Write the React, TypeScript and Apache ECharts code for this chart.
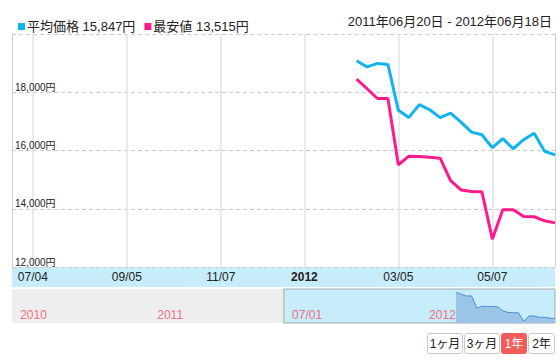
import React, { useEffect, useRef } from 'react';
import * as echarts from 'echarts';

// ---- data ----
const weekDates = [
  '2012-02-06', '2012-02-13', '2012-02-20', '2012-02-27', '2012-03-05',
  '2012-03-12', '2012-03-19', '2012-03-26', '2012-04-02', '2012-04-09',
  '2012-04-16', '2012-04-23', '2012-04-30', '2012-05-07', '2012-05-14',
  '2012-05-21', '2012-05-28', '2012-06-04', '2012-06-11', '2012-06-18',
];
const avgPrice = [
  19080, 18870, 18990, 18955, 17380, 17130, 17575, 17400, 17130, 17285,
  16975, 16630, 16540, 16095, 16405, 16060, 16370, 16595, 15975, 15847,
];
const minPrice = [
  18450, 18120, 17785, 17785, 15505, 15805, 15795, 15770, 15735, 14965,
  14645, 14595, 14585, 12955, 13965, 13965, 13735, 13725, 13585, 13515,
];
const seriesNames = ['平均価格', '最安値'];
const seriesColors = ['#10b4f0', '#ff1a8c'];
const mainRange = ['2011-06-20', '2012-06-18'];
const navRange = ['2010-06-20', '2012-06-18'];
const mainTickDates = ['2011-07-04', '2011-09-05', '2011-11-07', '2012-01-02', '2012-03-05', '2012-05-07'];
const mainTickLabels = ['07/04', '09/05', '11/07', '2012', '03/05', '05/07'];
const navTickDates = ['2010-07-01', '2011-01-01', '2011-07-01', '2012-01-01'];
const navTickLabels = ['2010', '2011', '07/01', '2012'];
const yMin = 12000;
const yMax = 20000;
const yInterval = 2000;
const rangeButtons = ['1ヶ月', '3ヶ月', '1年', '2年'];
const selectedButton = 2;

const FONT = '"Liberation Sans", Arial, "Noto Sans CJK JP", sans-serif';

const ts = (d: string) => {
  const [y, m, dd] = d.split('-').map(Number);
  return Date.UTC(y, m - 1, dd);
};
const jpDate = (d: string) => {
  const [y, m, dd] = d.split('-');
  return `${y}年${m}月${dd}日`;
};
const fmtNum = (v: number) => v.toLocaleString('en-US');

export default function App() {
  const ref = useRef<HTMLDivElement>(null);

  useEffect(() => {
    document.body.style.margin = '0';
    if (!ref.current) return;
    const chart = echarts.init(ref.current, undefined, { renderer: 'svg' });

    const mainTickTs = mainTickDates.map(ts);
    const navTickTs = navTickDates.map(ts);
    const lastVals = [avgPrice[avgPrice.length - 1], minPrice[minPrice.length - 1]];

    const btnWidths = [35, 35, 25, 26];
    const btnGap = 2;
    let bx = 0;
    const buttons: any[] = [];
    rangeButtons.forEach((label, i) => {
      const w = btnWidths[i];
      const sel = i === selectedButton;
      buttons.push({
        type: 'rect',
        x: bx, y: 0,
        shape: { width: w, height: 20, r: 2 },
        style: { fill: sel ? '#f45b5b' : '#ffffff', stroke: sel ? '#f45b5b' : '#c8c8c8', lineWidth: 1 },
      });
      buttons.push({
        type: 'text',
        x: bx + w / 2, y: 10,
        style: {
          text: label, fill: sel ? '#ffffff' : '#222222', font: `12px ${FONT}`,
          align: 'center', verticalAlign: 'middle',
        },
      });
      bx += w + btnGap;
    });

    chart.setOption({
      animation: false,
      textStyle: { fontFamily: FONT },
      legend: {
        left: 13, top: 15,
        icon: 'rect', itemWidth: 7, itemHeight: 7, itemGap: 9,
        data: seriesNames,
        textStyle: { fontSize: 13, color: '#222', fontFamily: FONT, padding: [0, 0, 0, -3] },
        formatter: (name: string) => `${name} ${fmtNum(lastVals[seriesNames.indexOf(name)])}円`,
        selectedMode: false,
      },
      grid: [
        { left: 12, right: 5, top: 34, bottom: 95 },
        { left: 12, right: 5, top: 289, bottom: 39 },
      ],
      xAxis: [
        {
          type: 'value', gridIndex: 0,
          min: ts(mainRange[0]), max: ts(mainRange[1]),
          axisLine: { show: false },
          axisTick: { show: false, customValues: mainTickTs },
          splitLine: { show: true, lineStyle: { color: '#e3e3e3', width: 1.5 } },
          axisLabel: {
            customValues: mainTickTs,
            margin: 4,
            fontSize: 12,
            color: '#222',
            fontFamily: FONT,
            formatter: (v: number) => {
              const i = mainTickTs.indexOf(v);
              const s = i >= 0 ? mainTickLabels[i] : '';
              return s.length === 4 ? `{b|${s}}` : s;
            },
            rich: { b: { fontWeight: 'bold', fontSize: 12, color: '#222', fontFamily: FONT } },
          },
        },
        {
          type: 'value', gridIndex: 1, z: 5,
          min: ts(navRange[0]), max: ts(navRange[1]),
          axisLine: { show: false },
          axisTick: { show: false, customValues: navTickTs },
          splitLine: { show: false },
          axisLabel: {
            customValues: navTickTs,
            inside: true,
            margin: 2,
            align: 'left',
            verticalAlign: 'bottom',
            fontSize: 12,
            color: '#f3707f',
            fontFamily: FONT,
            formatter: (v: number) => {
              const i = navTickTs.indexOf(v);
              return i >= 0 ? navTickLabels[i] : '';
            },
          },
        },
      ],
      yAxis: [
        {
          type: 'value', gridIndex: 0, position: 'left',
          min: yMin, max: yMax, interval: yInterval,
          axisLine: { show: true, lineStyle: { color: '#cfcfcf', width: 1 } },
          axisTick: { show: false },
          splitLine: { show: true, lineStyle: { color: '#cccccc', type: [4, 3], width: 1 } },
          axisLabel: {
            inside: true, margin: 3, verticalAlign: 'bottom', align: 'left',
            fontSize: 10, color: '#222', fontFamily: FONT,
            showMaxLabel: false,
            formatter: (v: number) => `${fmtNum(v)}円`,
          },
        },
        {
          type: 'value', gridIndex: 1, min: 12650, max: 19100,
          show: false,
        },
        {
          type: 'value', gridIndex: 0, position: 'right',
          min: yMin, max: yMax, interval: yInterval,
          axisLine: { show: true, lineStyle: { color: '#cfcfcf', width: 1 } },
          axisTick: { show: false },
          axisLabel: { show: false },
          splitLine: { show: false },
        },
      ],
      series: [
        {
          name: seriesNames[0], type: 'line', xAxisIndex: 0, yAxisIndex: 0,
          data: weekDates.map((d, i) => [ts(d), avgPrice[i]]),
          symbol: 'none', color: seriesColors[0],
          lineStyle: { width: 3, color: seriesColors[0] },
        },
        {
          name: seriesNames[1], type: 'line', xAxisIndex: 0, yAxisIndex: 0,
          data: weekDates.map((d, i) => [ts(d), minPrice[i]]),
          symbol: 'none', color: seriesColors[1],
          lineStyle: { width: 3, color: seriesColors[1] },
        },
        {
          name: 'navigator', type: 'line', xAxisIndex: 1, yAxisIndex: 1,
          data: weekDates.map((d, i) => [ts(d), minPrice[i]]),
          symbol: 'none',
          lineStyle: { width: 1, color: '#4d8fd4' },
          areaStyle: { color: '#9cc4e6', opacity: 1, origin: 'start' },
          silent: true,
          markArea: {
            silent: true,
            data: [
              [
                { xAxis: ts(navRange[0]), itemStyle: { color: '#eeeeee' } },
                { xAxis: ts(mainRange[0]) },
              ],
              [
                { xAxis: ts(mainRange[0]), itemStyle: { color: '#c7ecfb', borderColor: '#a8a8a8', borderWidth: 1 } },
                { xAxis: ts(mainRange[1]) },
              ],
            ],
          },
        },
      ],
      graphic: {
        elements: [
          {
            type: 'rect', left: 12, top: 267, z: -1,
            shape: { width: 543, height: 20 },
            style: { fill: '#c7ecfb' },
          },
          {
            type: 'text', right: 8, top: 15,
            style: {
              text: `${jpDate(mainRange[0])} - ${jpDate(mainRange[1])}`,
              fill: '#222', font: `13px ${FONT}`,
            },
          },
          {
            type: 'group', left: 427, top: 333,
            children: buttons,
          },
        ],
      },
    });

    return () => chart.dispose();
  }, []);

  return <div ref={ref} style={{ width: 560, height: 362 }} />;
}
